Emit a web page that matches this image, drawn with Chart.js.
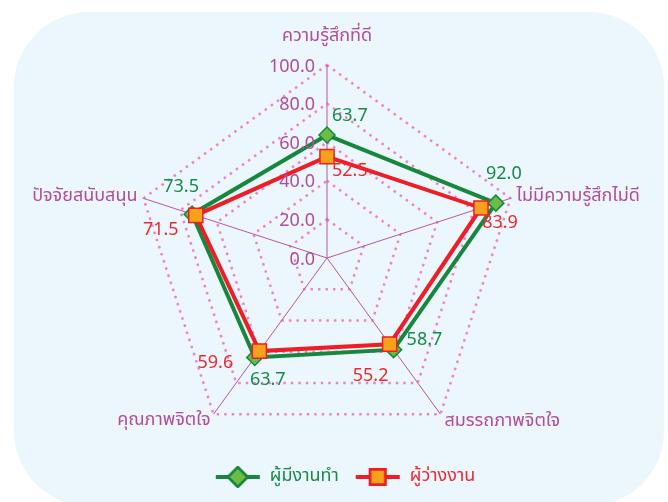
<!DOCTYPE html>
<html>
<head>
<meta charset="utf-8">
<script src="https://cdn.jsdelivr.net/npm/chart.js@4.4.1/dist/chart.umd.min.js"></script>
<style>
  html, body { margin: 0; padding: 0; background: #ffffff; }
  canvas { display: block; }
</style>
</head>
<body>
<canvas id="radarChart" width="668" height="502"></canvas>
<script>
const categories = ['ความรู้สึกที่ดี', 'ไม่มีความรู้สึกไม่ดี', 'สมรรถภาพจิตใจ', 'คุณภาพจิตใจ', 'ปัจจัยสนับสนุน']
const employed = [63.7, 92.0, 58.7, 63.7, 73.5]
const unemployed = [52.5, 83.9, 55.2, 59.6, 71.5]
const seriesNames = ['ผู้มีงานทำ', 'ผู้ว่างงาน']
const tickMin = 0
const tickMax = 100
const tickStep = 20

const FONT = 'Tahoma, "Noto Sans Thai", "Noto Sans", sans-serif'
const PURPLE = '#b24c9c'
const GREEN_LINE = '#17873d'
const GREEN_TEXT = '#188a48'
const RED_LINE = '#ee1d26'
const RED_TEXT = '#ee2a2e'

// label offsets from the point / axis end (style only)
const pointLabelPlace = [[0, -28, 'center'], [6, -1, 'left'], [4, 8, 'left'], [-3, 7, 'right'], [-6, -1, 'right']]
const valuePlace = [
    [[5, -18, 'left'], [8, -28, 'center'], [13, -8, 'left'], [13, 24, 'center'], [-11, -26, 'center']],
    [[5, 16, 'left'], [19, 16, 'center'], [-19, 33, 'center'], [-44, 13, 'center'], [-35, 16, 'center']]
]
const valueColors = [GREEN_TEXT, RED_TEXT]

function legendIcon(lineColor, style, fill, border, radius) {
    const c = document.createElement('canvas')
    c.width = 46
    c.height = 22
    const g = c.getContext('2d')
    g.strokeStyle = lineColor
    g.lineWidth = 4
    g.beginPath()
    g.moveTo(1, 11)
    g.lineTo(45, 11)
    g.stroke()
    Chart.helpers.drawPoint(g, {pointStyle: style, radius: radius, borderWidth: 1.5}, 23, 11)
    g.fillStyle = fill
    g.strokeStyle = border
    g.lineWidth = 1.5
    g.fill()
    g.stroke()
    return c
}

const background = {
    id: 'background',
    beforeDraw(chart) {
        const ctx = chart.ctx
        ctx.save()
        ctx.fillStyle = '#ffffff'
        ctx.fillRect(0, 0, chart.width, chart.height)
        ctx.fillStyle = '#ebf6fd'
        ctx.beginPath()
        ctx.roundRect(14, 12, 650, 494, 75)
        ctx.fill()
        ctx.restore()
    }
}

const radarText = {
    id: 'radarText',
    afterDatasetsDraw(chart) {
        const ctx = chart.ctx
        const scale = chart.scales.r
        ctx.save()
        ctx.textBaseline = 'middle'
        ctx.font = '18px ' + FONT

        // tick labels, left of the vertical axis
        ctx.fillStyle = PURPLE
        ctx.textAlign = 'right'
        scale.ticks.forEach(t => {
            const p = scale.getPointPositionForValue(0, t.value)
            ctx.fillText(t.value.toFixed(1), p.x - 12, p.y + 3)
        })

        // category labels
        categories.forEach((name, i) => {
            const p = scale.getPointPosition(i, scale.drawingArea)
            const [dx, dy, align] = pointLabelPlace[i]
            ctx.textAlign = align
            ctx.fillText(name, p.x + dx, p.y + dy)
        })

        // value labels
        chart.data.datasets.forEach((ds, di) => {
            const meta = chart.getDatasetMeta(di)
            ctx.fillStyle = valueColors[di]
            meta.data.forEach((pt, i) => {
                const [dx, dy, align] = valuePlace[di][i]
                ctx.textAlign = align
                ctx.fillText(ds.data[i].toFixed(1), pt.x + dx, pt.y + dy)
            })
        })
        ctx.restore()
    }
}

const icons = [
    legendIcon(GREEN_LINE, 'rectRot', '#6cbd45', GREEN_LINE, 9),
    legendIcon(RED_LINE, 'rect', '#f8a11c', RED_LINE, 10)
]

const ctx = document.getElementById('radarChart').getContext('2d')
const myChart = new Chart(ctx, {
    type: 'radar',
    data: {
        labels: categories,
        datasets: [{
            label: seriesNames[0],
            data: employed,
            borderColor: GREEN_LINE,
            backgroundColor: '#6cbd45',
            borderWidth: 4,
            fill: false,
            pointStyle: 'rectRot',
            pointRadius: 8,
            pointHoverRadius: 8,
            pointBackgroundColor: '#6cbd45',
            pointBorderColor: GREEN_LINE,
            pointBorderWidth: 1.5,
            order: 2
        }, {
            label: seriesNames[1],
            data: unemployed,
            borderColor: RED_LINE,
            backgroundColor: '#f8a11c',
            borderWidth: 4,
            fill: false,
            pointStyle: 'rect',
            pointRadius: 10,
            pointHoverRadius: 10,
            pointBackgroundColor: '#f8a11c',
            pointBorderColor: RED_LINE,
            pointBorderWidth: 1.5,
            order: 1
        }]
    },
    options: {
        responsive: false,
        animation: false,
        devicePixelRatio: 1,
        layout: {
            padding: {left: 100, right: 78, top: 65, bottom: 6}
        },
        scales: {
            r: {
                min: tickMin,
                max: tickMax,
                ticks: {stepSize: tickStep, display: false},
                pointLabels: {display: false},
                grid: {color: '#ee84c4', lineWidth: 2.5},
                border: {dash: [2.5, 5]},
                angleLines: {color: '#b855a8', lineWidth: 1},
                // the web sits a bit left of the legend centre
                afterFit(scale) {
                    scale.xCenter -= 18
                }
            }
        },
        plugins: {
            tooltip: {enabled: false},
            legend: {
                position: 'bottom',
                labels: {
                    usePointStyle: true,
                    pointStyleWidth: 46,
                    padding: 16,
                    font: {size: 18, family: FONT},
                    sort: (a, b) => a.datasetIndex - b.datasetIndex,
                    generateLabels(chart) {
                        const items = Chart.defaults.plugins.legend.labels.generateLabels(chart)
                        items.forEach(item => {
                            item.pointStyle = icons[item.datasetIndex]
                            item.fontColor = valueColors[item.datasetIndex]
                        })
                        return items
                    }
                }
            }
        }
    },
    plugins: [background, radarText]
})
</script>
</body>
</html>
